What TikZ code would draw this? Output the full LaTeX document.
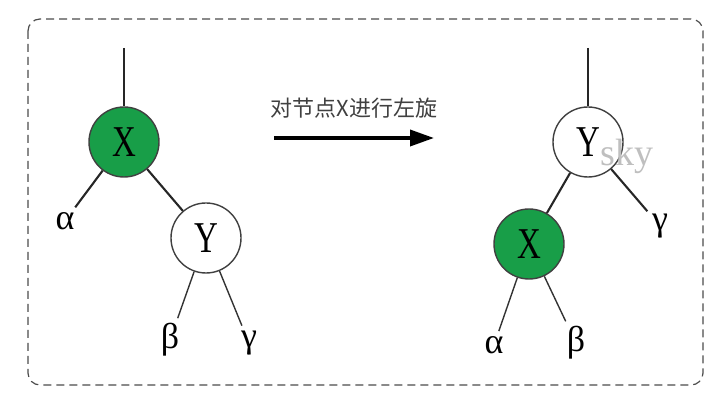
\documentclass[tikz,border=0pt]{standalone}
\usepackage{fontspec}
\newfontfamily\cjk{Noto Sans CJK SC}
\newfontfamily\grk{Liberation Serif}
\usepackage{graphicx}
\usetikzlibrary{positioning,arrows.meta}
\definecolor{nodegreen}{RGB}{24,158,72}
\newcommand\narrowtxt[1]{\scalebox{0.75}[1]{#1}}

\begin{document}
\begin{tikzpicture}[
    x=0.5pt, y=-0.5pt, on grid,
    tnode/.style={circle, draw=black!75, line width=0.7pt, minimum size=35pt, inner sep=0pt, font=\grk\fontsize{22}{22}\selectfont},
    xnode/.style={tnode, fill=nodegreen},
    ynode/.style={tnode, fill=white},
    leaf/.style={inner sep=1.5pt, font=\grk\fontsize{18}{18}\selectfont},
    branch/.style={draw=black!85, line width=1.05pt},
    thinbranch/.style={draw=black!80, line width=0.7pt, shorten >=1pt},
    arr/.style={-{Triangle[length=12pt, width=8pt]}, line width=1.8pt}
  ]
    \useasboundingbox (0,0) rectangle (724,406);
    \draw[black!70, line width=0.6pt, dash pattern=on 4pt off 2.5pt, rounded corners=6pt] (28,19) rectangle (703,385);

    % before the rotation
    \node[xnode] (xl) at (124,142) {\narrowtxt{X}};
    \node[ynode, below right=48pt and 41pt of xl] (yl) {\narrowtxt{Y}};
    \coordinate[above=47pt of xl] (tl);
    \node[leaf, below left=39.5pt and 29.5pt of xl] (al) {α};
    \node[leaf, below left=51pt and 18pt of yl] (bl) {β};
    \node[leaf, below right=52.5pt and 21.5pt of yl] (gl) {γ};
    \draw[branch] (tl) -- (xl);
    \draw[branch, shorten >=1pt] (xl) -- (al);
    \draw[branch] (xl) -- (yl);
    \draw[thinbranch] (yl) -- (bl);
    \draw[thinbranch] (yl) -- (gl);

    % arrow
    \coordinate (as) at (274,138);
    \coordinate (ae) at (434,138);
    \node[font=\cjk\fontsize{11}{11}\selectfont, text=black!75] (lbl) at (354,108) {对节点X进行左旋};
    \draw[arr] (as) -- (ae);

    % after the rotation
    \node[ynode] (yr) at (588,142) {\narrowtxt{Y}};
    \coordinate[above=47pt of yr] (tr);
    \node[xnode, below left=51pt and 29.5pt of yr] (xr) {\narrowtxt{X}};
    \node[leaf, below right=42pt and 36pt of yr] (gr) {γ};
    \node[leaf, below left=50.5pt and 17.5pt of xr] (ar) {α};
    \node[leaf, below right=49.5pt and 23.5pt of xr] (br) {β};
    \draw[branch] (tr) -- (yr);
    \draw[branch] (yr) -- (xr);
    \draw[branch, shorten >=1pt] (yr) -- (gr);
    \draw[thinbranch] (xr) -- (ar);
    \draw[thinbranch] (xr) -- (br);

    \node[text=black!25, font=\grk\fontsize{19}{19}\selectfont] (wm) at (627,156) {sky};
  \end{tikzpicture}
\end{document}
